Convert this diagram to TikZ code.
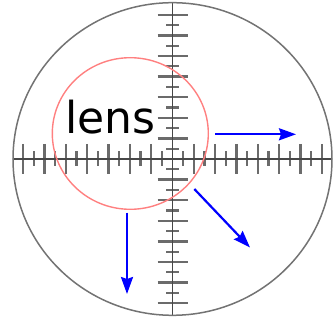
\documentclass[tikz,border=0pt]{standalone}
\usepackage{fontspec}
\newfontfamily\lensfont{DejaVu Sans}
\usetikzlibrary{arrows.meta}
\begin{document}
\begin{tikzpicture}[x=1pt,y=-1pt,
  rim/.style={draw=black!55, line width=1.5pt},
  axisline/.style={draw=black!72, line width=1.7pt},
  tickmark/.style={draw=black!58, line width=2.3pt},
  lensring/.style={draw=red!50, line width=1.4pt},
  move/.style={draw=blue, line width=2.2pt, -{Stealth[length=17pt,width=12pt,inset=2pt]}}]
\useasboundingbox (0,0) rectangle (333,321);
\coordinate (c) at (172.5,159);
% ticks on horizontal axis
\foreach \k in {1,...,14} {
  \pgfmathsetmacro\L{ifthenelse(mod(\k,2)==1,7.5,15)}
  \draw[tickmark] (172.5+\k*10.67, 159-\L) -- (172.5+\k*10.67, 159+\L);
  \draw[tickmark] (172.5-\k*10.67, 159-\L) -- (172.5-\k*10.67, 159+\L);
  \pgfmathsetmacro\W{ifthenelse(mod(\k,2)==1,6.5,15)}
  \draw[tickmark] (172.5-\W, 159+\k*10.3) -- (172.5+\W, 159+\k*10.3);
  \draw[tickmark] (172.5-\W, 159-\k*10.3) -- (172.5+\W, 159-\k*10.3);
}
% axes
\coordinate (left) at (13,159);
\coordinate (right) at (332,159);
\coordinate (top) at (172.5,2.7);
\coordinate (bottom) at (172.5,315.3);
\draw[axisline] (left) -- (right);
\draw[axisline] (top) -- (bottom);
% outer rim
\draw[rim] (c) ellipse [x radius=159.5, y radius=156.3];
% lens
\coordinate (lc) at (130.3,133.5);
\draw[lensring] (lc) ellipse [x radius=78, y radius=75.8];
\node[font=\lensfont\fontsize{44}{44}\selectfont, anchor=base, inner sep=0pt] (lens) at (110.4,134) {lens};
% arrows
\coordinate (a1s) at (215,134.3);
\coordinate (a1e) at (296,134.3);
\coordinate (a2s) at (194.3,189);
\coordinate (a2e) at (250,247.5);
\coordinate (a3s) at (127,212.7);
\coordinate (a3e) at (127,294);
\draw[move] (a1s) -- (a1e);
\draw[move] (a2s) -- (a2e);
\draw[move] (a3s) -- (a3e);
\end{tikzpicture}
\end{document}
